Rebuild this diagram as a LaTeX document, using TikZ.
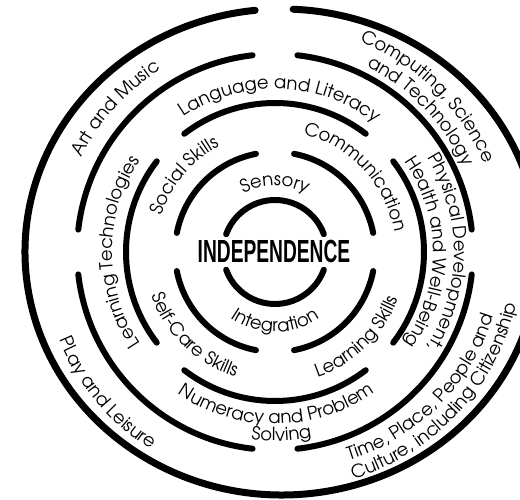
\documentclass[tikz,border=0pt]{standalone}
\usepackage{fontspec}
\usepackage{graphicx}
\setmainfont{Liberation Sans}
\newfontfamily\labfont{texgyreadventor-regular.otf}
\usetikzlibrary{decorations.text}

\tikzset{
  ring/.style={line width=6pt, line cap=round},
  outerring/.style={line width=7pt, line cap=round},
  curvedlabel/.style={decorate, decoration={text along path, text align=center, text={#1}}},
}
\newcommand\lfs{\labfont\fontsize{18}{20}\selectfont}
% clockwise label (letter tops outward): cx, cy, radius, centre angle, text
\newcommand\cwlabel[5]{\path[curvedlabel={|\lfs|#5}] (#1,#2) ++({#4+90}:#3) arc[start angle={#4+90}, end angle={#4-90}, radius=#3];}
% counter-clockwise label (letter tops inward)
\newcommand\ccwlabel[5]{\path[curvedlabel={|\lfs|#5}] (#1,#2) ++({#4-90}:#3) arc[start angle={#4-90}, end angle={#4+90}, radius=#3];}
% ring arc: radius, from, to
\newcommand\ringarc[3]{\draw[ring] (C) ++(#2:#1) arc[start angle=#2, end angle=#3, radius=#1];}

\begin{document}
\begin{tikzpicture}[x=1pt, y=1pt]
\useasboundingbox (0,0) rectangle (520,500);
\fill[white] (0,0) rectangle (520,500);
\clip (0,0) rectangle (520,500);
\coordinate (C) at (275,248);
\coordinate (E) at (282,248);

% ring 1
\ringarc{52}{20}{160}
\ringarc{52}{200}{340}
% ring 2
\ringarc{100}{11}{79}
\ringarc{100}{101}{169}
\ringarc{100}{191}{259}
\ringarc{100}{281}{349}
% ring 3
\ringarc{149}{52.5}{127.5}
\ringarc{149}{142.5}{217.5}
\ringarc{149}{232.5}{307.5}
\ringarc{149}{322.5}{397.5}
% ring 4
\ringarc{198}{6.5}{83.5}
\ringarc{198}{96.5}{173.5}
\ringarc{198}{186.5}{263.5}
\ringarc{198}{276.5}{353.5}
% outer ring
\draw[outerring] (E) ++(96:257 and 243) arc[start angle=96, end angle=447.5, x radius=257, y radius=243];

\node (ind) at (274,248.5) {\scalebox{0.6}[1]{\bfseries\fontsize{32}{32}\selectfont INDEPENDENCE}};

\cwlabel{275}{248}{66}{90}{Sensory}
\ccwlabel{275}{248}{80}{270}{Integration}
\cwlabel{275}{248}{119}{140}{Social Skills}
\cwlabel{275}{248}{121}{43}{Communication}
\ccwlabel{275}{248}{132}{-46}{Learning Skills}
\ccwlabel{275}{248}{131}{226}{Self-Care Skills}
\cwlabel{275}{248}{163}{88}{Language and Literacy}
\cwlabel{275}{248}{179}{0}{Physical Development,}
\cwlabel{275}{248}{158}{0}{Health and Well-Being}
\ccwlabel{275}{248}{172}{270.5}{Numeracy and Problem}
\ccwlabel{275}{248}{189}{272}{Solving}
\cwlabel{275}{248}{163}{180}{Learning Technologies}
\cwlabel{275}{248}{215}{138}{Art and Music}
\cwlabel{275}{248}{227}{45.5}{Computing, Science}
\cwlabel{275}{248}{207}{44}{and Technology}
\ccwlabel{275}{248}{233}{220}{PLay and Leisure}
\ccwlabel{285}{248}{218}{-45}{Time, Place, People and}
\ccwlabel{285}{248}{237}{-43}{Culture, including Citizenship}
\end{tikzpicture}
\end{document}
